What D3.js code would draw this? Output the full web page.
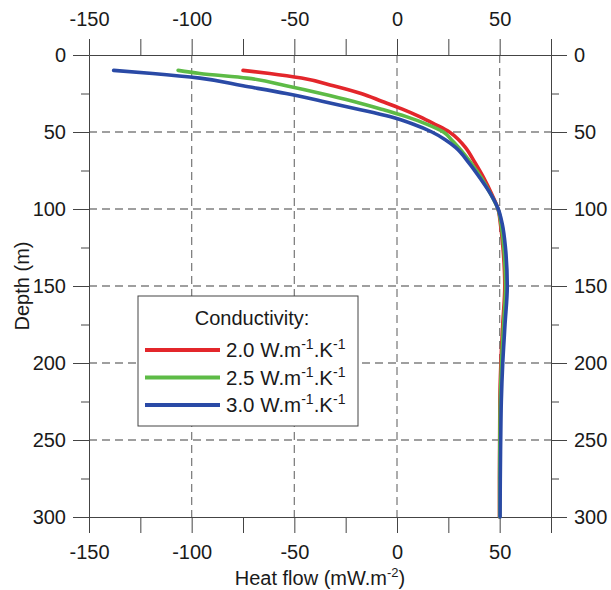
<!DOCTYPE html>
<html>
<head>
<meta charset="utf-8">
<script src="https://cdn.jsdelivr.net/npm/d3@7"></script>
<style>
  body { margin: 0; background: #fff; }
  text { font-family: 'Liberation Sans', Arial, sans-serif; fill: #1a1a1a; }
  .axis path, .axis line { stroke: #444; stroke-width: 1; }
  .axis text { font-size: 20px; fill: #1a1a1a; }
  .grid line { stroke: #808080; stroke-width: 1.3; stroke-dasharray: 8,5; }
</style>
</head>
<body>
<div id="chart"></div>
<script>
// depth (m) where the curves were read
const depths = [10, 12, 15, 20, 25, 30, 35, 40, 45, 50, 55, 60, 70, 80, 90, 100, 110, 125, 150, 175, 200, 225, 250, 275, 300]

// heat flow (mW/m2) for each conductivity
const flowK20 = [-75, -62, -46.5, -31, -17.5, -7.5, 2.3, 11, 18.5, 25.5, 30, 33.3, 38, 42.3, 46, 49.2, 50.4, 51.6, 52.5, 51.5, 50.6, 50.1, 50, 49.9, 49.9]
const flowK25 = [-106.6, -96, -73, -54, -37, -21.5, -8, 4.5, 14.7, 22.6, 26.5, 30, 36, 41.2, 45.5, 49.2, 50.7, 52, 52.9, 51.9, 50.9, 50.3, 50.1, 50, 50]
const flowK30 = [-138, -119, -96, -75, -54, -36.5, -19.5, -3.5, 8, 17, 23.5, 28.5, 35, 40.5, 45.5, 49.3, 51.3, 52.8, 53.7, 52.6, 51.5, 50.8, 50.5, 50.3, 50.2]

const seriesNames = ['2.0', '2.5', '3.0']
const seriesColors = ['#e3262b', '#5dbb46', '#2a4aa6']

const xTicks = [-150, -125, -100, -75, -50, -25, 0, 25, 50, 75]
const xLabels = [-150, -100, -50, 0, 50]
const yMajor = [0, 50, 100, 150, 200, 250, 300]
const yMinor = [25, 75, 125, 175, 225, 275]

var margin = { top: 55, right: 60, bottom: 73, left: 89 }
var width = 611 - margin.left - margin.right
var height = 590 - margin.top - margin.bottom

var svg = d3
  .select('#chart')
  .append('svg')
  .attr('width', width + margin.left + margin.right)
  .attr('height', height + margin.top + margin.bottom)
  .append('g')
  .attr('transform', 'translate(' + margin.left + ',' + margin.top + ')')

const x = d3.scaleLinear().domain([-150, 75]).range([0, width])
const y = d3.scaleLinear().domain([0, 300]).range([0, height])

// dashed grid
svg
  .append('g')
  .attr('class', 'grid')
  .selectAll('line.v')
  .data(xLabels.filter(d => d > -150))
  .enter()
  .append('line')
  .attr('x1', d => x(d))
  .attr('x2', d => x(d))
  .attr('y1', 0)
  .attr('y2', height)

svg
  .select('.grid')
  .selectAll('line.h')
  .data(yMajor.filter(d => d > 0 && d < 300))
  .enter()
  .append('line')
  .attr('y1', d => y(d))
  .attr('y2', d => y(d))
  .attr('x1', 0)
  .attr('x2', width)

// axes on all four sides
var fmtX = d => (xLabels.includes(d) ? d : '')

svg
  .append('g')
  .attr('class', 'axis')
  .call(d3.axisTop(x).tickValues(xTicks).tickFormat(fmtX).tickSize(16).tickSizeOuter(0).tickPadding(13))

svg
  .append('g')
  .attr('class', 'axis')
  .attr('transform', 'translate(0,' + height + ')')
  .call(d3.axisBottom(x).tickValues(xTicks).tickFormat(fmtX).tickSize(16).tickSizeOuter(0).tickPadding(12))

svg
  .append('g')
  .attr('class', 'axis')
  .call(d3.axisLeft(y).tickValues(yMajor).tickSize(16).tickSizeOuter(0).tickPadding(7))
svg
  .append('g')
  .attr('class', 'axis')
  .call(d3.axisLeft(y).tickValues(yMinor).tickFormat('').tickSize(8).tickSizeOuter(0))

svg
  .append('g')
  .attr('class', 'axis')
  .attr('transform', 'translate(' + width + ',0)')
  .call(d3.axisRight(y).tickValues(yMajor).tickSize(16).tickSizeOuter(0).tickPadding(7))
svg
  .append('g')
  .attr('class', 'axis')
  .attr('transform', 'translate(' + width + ',0)')
  .call(d3.axisRight(y).tickValues(yMinor).tickFormat('').tickSize(8).tickSizeOuter(0))

// curves
var flows = [flowK20, flowK25, flowK30]
var line = d3
  .line()
  .x(d => x(d.v))
  .y(d => y(d.z))
  .curve(d3.curveMonotoneY)

flows.forEach((vals, i) => {
  var pts = depths.map((z, j) => ({ z: z, v: vals[j] }))
  svg
    .append('path')
    .datum(pts)
    .attr('fill', 'none')
    .attr('stroke', seriesColors[i])
    .attr('stroke-width', 3.6)
    .attr('stroke-linecap', 'round')
    .attr('d', line)
})

// axis titles
svg
  .append('text')
  .attr('x', width / 2)
  .attr('y', height + 68)
  .attr('text-anchor', 'middle')
  .style('font-size', '20px')
  .text('Heat flow (mW.m')
  .append('tspan')
  .attr('dy', -8)
  .style('font-size', '13px')
  .text('-2')
  .select(function() { return this.parentNode })
  .append('tspan')
  .attr('dy', 8)
  .text(')')

svg
  .append('text')
  .attr('transform', 'translate(' + (-60) + ',' + height / 2 + ') rotate(-90)')
  .attr('text-anchor', 'middle')
  .style('font-size', '20px')
  .text('Depth (m)')

// legend
var legend = svg.append('g').attr('transform', 'translate(' + (138 - margin.left) + ',' + (296 - margin.top) + ')')

legend
  .append('rect')
  .attr('width', 220)
  .attr('height', 130)
  .attr('fill', '#fff')
  .attr('stroke', '#444')
  .attr('stroke-width', 1)

legend
  .append('text')
  .attr('x', 114)
  .attr('y', 29)
  .attr('text-anchor', 'middle')
  .style('font-size', '20px')
  .text('Conductivity:')

seriesNames.forEach((name, i) => {
  var row = legend.append('g').attr('transform', 'translate(0,' + (54 + i * 27.5) + ')')
  row
    .append('line')
    .attr('x1', 7)
    .attr('x2', 82)
    .attr('stroke', seriesColors[i])
    .attr('stroke-width', 4)
  var t = row
    .append('text')
    .attr('x', 88)
    .attr('y', 7)
    .style('font-size', '20.5px')
  t.append('tspan').text(name + ' W.m')
  t.append('tspan').attr('dy', -8).style('font-size', '14px').text('-1')
  t.append('tspan').attr('dy', 8).text('.K')
  t.append('tspan').attr('dy', -8).style('font-size', '14px').text('-1')
})
</script>
</body>
</html>
